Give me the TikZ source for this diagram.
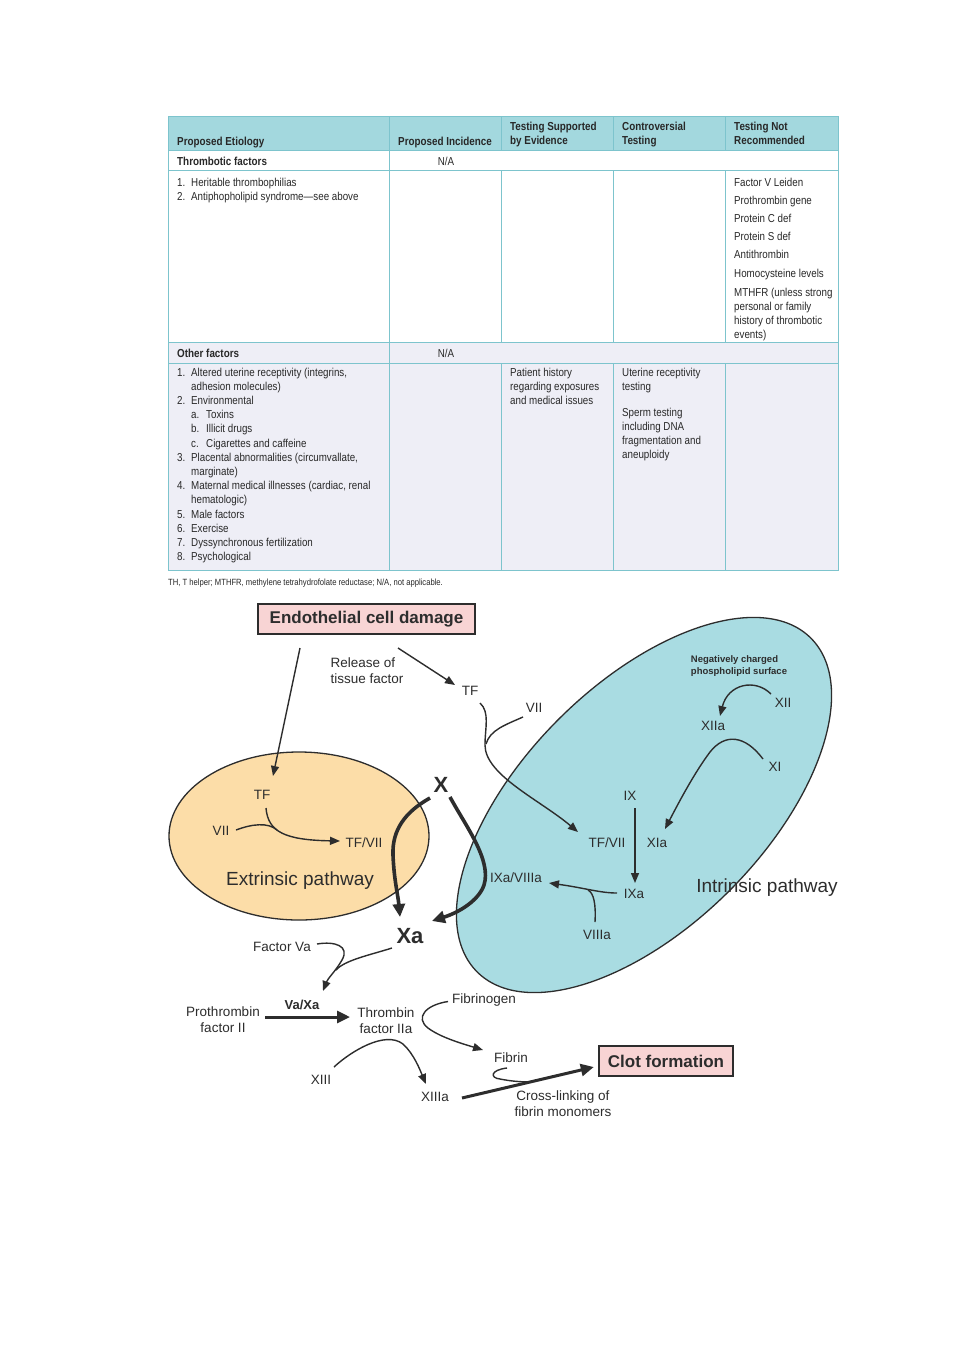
\documentclass[tikz,border=0pt]{standalone}
\usepackage{fontspec}
\setmainfont{Liberation Sans}
\newfontfamily\condf[FakeStretch=0.85]{Liberation Sans}
\usetikzlibrary{arrows.meta,calc}
\definecolor{hdr}{RGB}{163,216,222}
\definecolor{lav}{RGB}{238,238,246}
\definecolor{gridc}{RGB}{125,196,205}
\definecolor{peach}{RGB}{252,221,168}
\definecolor{teal}{RGB}{169,220,226}
\definecolor{pinkb}{RGB}{248,212,212}
\definecolor{ink}{RGB}{45,45,45}
\definecolor{tbl}{RGB}{40,40,40}
\tikzset{
  grid/.style={draw=gridc, line width=0.9pt},
  th/.style={font=\condf\bfseries\fontsize{11.6}{13}\selectfont, anchor=base west, inner sep=0pt, text=tbl},
  tb/.style={font=\condf\fontsize{11.5}{14}\selectfont, anchor=base west, inner sep=0pt, text=tbl},
  fn/.style={font=\condf\fontsize{9}{10}\selectfont, anchor=base west, inner sep=0pt, text=tbl},
  lab/.style={font=\fontsize{13.5}{16}\selectfont, inner sep=0pt, text=ink},
  big/.style={font=\fontsize{19}{22}\selectfont, inner sep=0pt, text=ink},
  bx/.style={font=\bfseries\fontsize{17}{20}\selectfont, draw=ink, line width=2.4pt, fill=pinkb, inner sep=0pt, text=ink},
  ln/.style={draw=ink, line width=1.4pt},
  arr/.style={draw=ink, line width=1.4pt, -{Triangle[length=10pt,width=8pt]}},
  tarr/.style={draw=ink, line width=3.6pt, -{Triangle[length=13pt,width=12pt]}},
}
\begin{document}
\begin{tikzpicture}[x=1pt,y=-1pt]
\path[use as bounding box, fill=white] (0,0) rectangle (954,1350);

% ---------------- table ----------------
\fill[hdr] (168,116) rectangle (838,150);
\fill[lav] (168,342) rectangle (838,570);
\draw[grid] (168,116) rectangle (838,570);
\foreach \yy in {150,170,342,363} \draw[grid] (168,\yy) -- (838,\yy);
\draw[grid] (389,116) -- (389,570);
\foreach \xx in {501,613,725} {
  \draw[grid] (\xx,116) -- (\xx,150);
  \draw[grid] (\xx,170) -- (\xx,342);
  \draw[grid] (\xx,363) -- (\xx,570);
}
\node[th] (h1) at (177,145) {Proposed Etiology};
\node[th] (h2) at (398,145) {Proposed Incidence};
\node[th] (h3a) at (510,130) {Testing Supported};
\node[th] (h3b) at (510,144) {by Evidence};
\node[th] (h4a) at (622,130) {Controversial};
\node[th] (h4b) at (622,144) {Testing};
\node[th] (h5a) at (734,130) {Testing Not};
\node[th] (h5b) at (734,144) {Recommended};

\node[th] (r1) at (177,165) {Thrombotic factors};
\node[tb, anchor=base] (r1n) at (446,165) {N/A};
\node[tb] (a1n) at (177,186) {1.};
\node[tb] (a1t) at (191,186) {Heritable thrombophilias};
\node[tb] (a2n) at (177,200) {2.};
\node[tb] (a2t) at (191,200) {Antiphopholipid syndrome—see above};

\node[tb] (c1) at (734,186) {Factor V Leiden};
\node[tb] (c2) at (734,204) {Prothrombin gene};
\node[tb] (c3) at (734,222) {Protein C def};
\node[tb] (c4) at (734,240) {Protein S def};
\node[tb] (c5) at (734,258) {Antithrombin};
\node[tb] (c6) at (734,277) {Homocysteine levels};
\node[tb] (c7) at (734,296) {MTHFR (unless strong};
\node[tb] (c8) at (734,310) {personal or family};
\node[tb] (c9) at (734,324) {history of thrombotic};
\node[tb] (c10) at (734,338) {events)};

\node[th] (r2) at (177,357) {Other factors};
\node[tb, anchor=base] (r2n) at (446,357) {N/A};

\node[tb] (o1n) at (177,376) {1.};
\node[tb] (o1t) at (191,376) {Altered uterine receptivity (integrins,};
\node[tb] (o1u) at (191,390.2) {adhesion molecules)};
\node[tb] (o2n) at (177,404.4) {2.};
\node[tb] (o2t) at (191,404.4) {Environmental};
\node[tb] (o2an) at (191,418.6) {a.};
\node[tb] (o2at) at (206,418.6) {Toxins};
\node[tb] (o2bn) at (191,432.8) {b.};
\node[tb] (o2bt) at (206,432.8) {Illicit drugs};
\node[tb] (o2cn) at (191,447) {c.};
\node[tb] (o2ct) at (206,447) {Cigarettes and caffeine};
\node[tb] (o3n) at (177,461.2) {3.};
\node[tb] (o3t) at (191,461.2) {Placental abnormalities (circumvallate,};
\node[tb] (o3u) at (191,475.4) {marginate)};
\node[tb] (o4n) at (177,489.6) {4.};
\node[tb] (o4t) at (191,489.6) {Maternal medical illnesses (cardiac, renal};
\node[tb] (o4u) at (191,503.8) {hematologic)};
\node[tb] (o5n) at (177,518) {5.};
\node[tb] (o5t) at (191,518) {Male factors};
\node[tb] (o6n) at (177,532.2) {6.};
\node[tb] (o6t) at (191,532.2) {Exercise};
\node[tb] (o7n) at (177,546.4) {7.};
\node[tb] (o7t) at (191,546.4) {Dyssynchronous fertilization};
\node[tb] (o8n) at (177,560.6) {8.};
\node[tb] (o8t) at (191,560.6) {Psychological};

\node[tb] (p1) at (510,376) {Patient history};
\node[tb] (p2) at (510,390.2) {regarding exposures};
\node[tb] (p3) at (510,404.4) {and medical issues};

\node[tb] (u1) at (622,376) {Uterine receptivity};
\node[tb] (u2) at (622,390.2) {testing};
\node[tb] (u3) at (622,416) {Sperm testing};
\node[tb] (u4) at (622,430.2) {including DNA};
\node[tb] (u5) at (622,444.4) {fragmentation and};
\node[tb] (u6) at (622,458.6) {aneuploidy};

\node[fn] (foot) at (168,585) {TH, T helper; MTHFR, methylene tetrahydrofolate reductase; N/A, not applicable.};

% ---------------- diagram ----------------
\draw[ink, line width=1.3pt, fill=peach] (299,836) ellipse [x radius=130pt, y radius=84pt];
\draw[ink, line width=1.3pt, fill=teal, rotate around={45:(644,805)}] (644,805) ellipse [x radius=236pt, y radius=121pt];

\node[bx, minimum width=217pt, minimum height=30pt] (ecd) at (366.5,619) {Endothelial cell damage};
\node[bx, minimum width=134pt, minimum height=30pt] (clot) at (666,1061) {Clot formation};

\node[lab, align=left] (rel) at (367,671) {Release of\\tissue factor};
\node[lab] (TFtop) at (470,691) {TF};
\node[lab] (VIIi) at (534,708) {VII};
\node[lab] (TFe) at (262,795) {TF};
\node[lab] (VIIe) at (221,831) {VII};
\node[lab] (TFVIIe) at (364,843) {TF/VII};
\node[big] (ext) at (300,881) {Extrinsic pathway};
\node[font=\bfseries\fontsize{22}{24}\selectfont, inner sep=0pt, text=ink] (X) at (441,785) {X};
\node[font=\bfseries\fontsize{22}{24}\selectfont, inner sep=0pt, text=ink] (Xa) at (410,936) {Xa};

\node[font=\bfseries\fontsize{9.5}{12}\selectfont, inner sep=0pt, text=ink, align=left] (neg) at (739,666) {Negatively charged\\phospholipid surface};
\node[lab] (XII) at (783,703) {XII};
\node[lab] (XIIa) at (713,726) {XIIa};
\node[lab] (XI) at (775,767) {XI};
\node[lab] (IX) at (630,796) {IX};
\node[lab] (TFVIIi) at (607,843) {TF/VII};
\node[lab] (XIa) at (657,843) {XIa};
\node[lab] (IXV) at (516,878) {IXa/VIIIa};
\node[lab] (IXa) at (634,894) {IXa};
\node[lab] (VIIIa) at (597,935) {VIIIa};
\node[big] (intr) at (767,888) {Intrinsic pathway};

\node[lab] (FVa) at (282,947) {Factor Va};
\node[lab, align=center] (Pro) at (223,1019.5) {Prothrombin\\factor II};
\node[lab, font=\bfseries\fontsize{13}{16}\selectfont] (VaXa) at (302,1005) {Va/Xa};
\node[lab, align=center] (Thr) at (386,1020.5) {Thrombin\\factor IIa};
\node[lab] (Fbg) at (484,1000) {Fibrinogen};
\node[lab] (Fbn) at (511,1058) {Fibrin};
\node[lab] (XIII) at (321,1080) {XIII};
\node[lab] (XIIIa) at (435,1097) {XIIIa};
\node[lab, align=center] (cross) at (563,1104) {Cross-linking of\\fibrin monomers};

% connectors
\draw[arr] ($(ecd.center)+(-66.5,29)$) -- ($(TFe.center)+(11,-19)$);
\draw[arr] ($(ecd.center)+(31.5,29)$) -- ($(TFtop.center)+(-15,-6)$);

% extrinsic
\coordinate (mE) at (277,830);
\draw[arr] ($(TFe.center)+(4,13)$) .. controls (268,832) and (285,840) .. ($(TFVIIe.center)+(-24,-2)$);
\draw[ln] ($(VIIe.center)+(15,-1)$) .. controls (252,824) and (268,822) .. (mE);

% X -> Xa thick arrows
\draw[tarr] ($(X.center)+(-11,13)$) .. controls (405,812) and (392,830) .. (393,855) .. controls (394,880) and (398,895) .. ($(Xa.center)+(-10,-19)$);
\draw[tarr] ($(X.center)+(9,12)$) .. controls (465,825) and (492,860) .. (484,885) .. controls (479,900) and (460,912) .. ($(Xa.center)+(22,-15)$);

% intrinsic TF/VII
\coordinate (mI) at (486,744);
\draw[arr] ($(TFtop.center)+(10,12)$) .. controls (490,712) and (485,728) .. (485,745) .. controls (485,775) and (540,800) .. ($(TFVIIi.center)+(-29,-11)$);
\draw[ln] ($(VIIi.center)+(-11,9)$) .. controls (505,725) and (490,730) .. (mI);

% XII -> XIIa, XI -> XIa, IX -> IXa
\draw[arr] ($(XII.center)+(-12,-9)$) .. controls (755,678) and (728,684) .. ($(XIIa.center)+(7,-10)$);
\draw[arr] ($(XI.center)+(-12,-8)$) .. controls (745,735) and (725,733) .. (710,752) .. controls (695,772) and (680,800) .. ($(XIa.center)+(8,-14)$);
\draw[arr] ($(IX.center)+(5,12)$) -- ($(IXa.center)+(1,-11)$);

% IXa -> IXa/VIIIa
\coordinate (mV) at (588,890);
\draw[arr] ($(IXa.center)+(-17,-1)$) .. controls (600,893) and (585,888) .. ($(IXV.center)+(33,5)$);
\draw[ln] ($(VIIIa.center)+(-2,-13)$) .. controls (596,905) and (594,893) .. (mV);

% Factor Va + Xa
\coordinate (mF) at (336,970);
\draw[arr] ($(FVa.center)+(35,-3)$) .. controls (335,941) and (350,946) .. (342,960) .. controls (335,972) and (328,978) .. ($(VaXa.center)+(21,-14)$);
\draw[ln] ($(Xa.center)+(-18,12)$) .. controls (370,955) and (345,960) .. (mF);

% Prothrombin -> Thrombin
\draw[tarr, line width=3pt] ($(Pro.center)+(42,-2.5)$) -- ($(Thr.center)+(-36,-3.5)$);

% Fibrinogen -> Fibrin
\draw[arr] ($(Fbg.center)+(-36,1.5)$) .. controls (425,1005) and (415,1018) .. (428,1028) .. controls (440,1037) and (460,1043) .. ($(Fbn.center)+(-28,-8)$);

% XIII -> XIIIa
\draw[arr] ($(XIII.center)+(13,-13)$) .. controls (350,1052) and (385,1030) .. (403,1044) .. controls (414,1054) and (420,1070) .. ($(XIIIa.center)+(-9,-13)$);

% XIIIa -> Clot
\coordinate (mC) at (532,1082);
\draw[tarr, line width=3pt] ($(XIIIa.center)+(27,1)$) -- ($(clot.west)+(-4,6)$);
\draw[ln] ($(Fbn.center)+(-4,10)$) .. controls (490,1070) and (490,1078) .. (500,1079) .. controls (510,1081) and (520,1082) .. (mC);
\end{tikzpicture}
\end{document}
